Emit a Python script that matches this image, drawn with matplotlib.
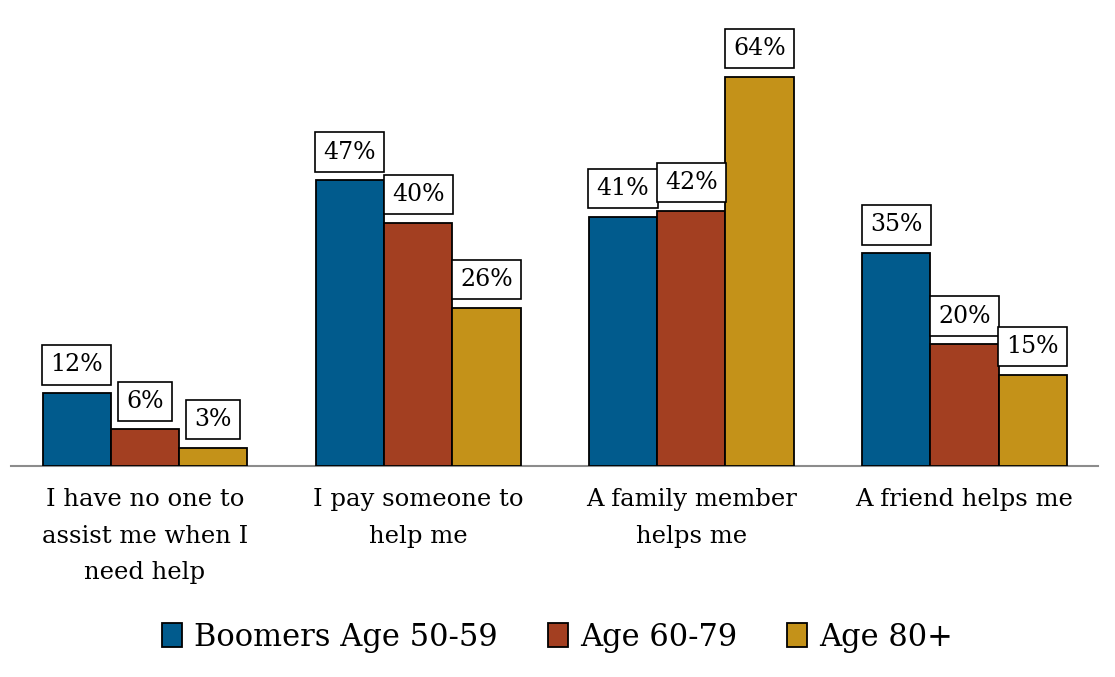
import numpy as np
import matplotlib
matplotlib.use("Agg")
import matplotlib.pyplot as plt

categories = ["I have no one to\nassist me when I\nneed help",
              "I pay someone to\nhelp me",
              "A family member\nhelps me",
              "A friend helps me"]
series_names = ["Boomers Age 50-59", "Age 60-79", "Age 80+"]
boomers = [12, 47, 41, 35]
age_60_79 = [6, 40, 42, 20]
age_80 = [3, 26, 64, 15]
colors = ["#015B8D", "#A33F21", "#C49219"]

plt.rcParams['font.family'] = ['DejaVu Serif']

fig = plt.figure(figsize=(11.15, 6.77), dpi=100)
ax = fig.add_axes([0.0075, 0.3117, 0.980, 0.6287])

ind = np.arange(len(categories))
width = 0.25
all_data = [boomers, age_60_79, age_80]
for i, (vals, name) in enumerate(zip(all_data, series_names)):
    bars = ax.bar(ind + (i - 1) * width, vals, width, color=colors[i],
                  edgecolor="black", linewidth=1.3, label=name, zorder=3)
    for bar in bars:
        h = bar.get_height()
        ax.annotate("{}%".format(h), xy=(bar.get_x() + bar.get_width() / 2, h),
                    xytext=(0, 12), textcoords="offset points",
                    ha="center", va="bottom", fontsize=17,
                    bbox=dict(boxstyle="square,pad=0.35", fc="white", ec="black", lw=1.2),
                    zorder=4)

ax.set_xlim(-0.5, 3.5)
ax.set_ylim(0, 70)
ax.set_yticks([])
ax.set_xticks(ind)
ax.set_xticklabels(categories, fontsize=17.5, linespacing=1.75, va="top")
ax.tick_params(axis="x", length=0, pad=16)
for s in ["top", "right", "left"]:
    ax.spines[s].set_visible(False)
ax.spines["bottom"].set_color("#8c8c8c")
ax.spines["bottom"].set_linewidth(1.5)
ax.spines["bottom"].set_bounds(-0.49, 3.49)

fig.legend(loc="center", bbox_to_anchor=(0.5, 0.059), ncol=3, frameon=False,
           fontsize=22, handlelength=0.65, handleheight=0.8, handletextpad=0.4,
           columnspacing=1.65)

fig.savefig("out.png", dpi=100)
